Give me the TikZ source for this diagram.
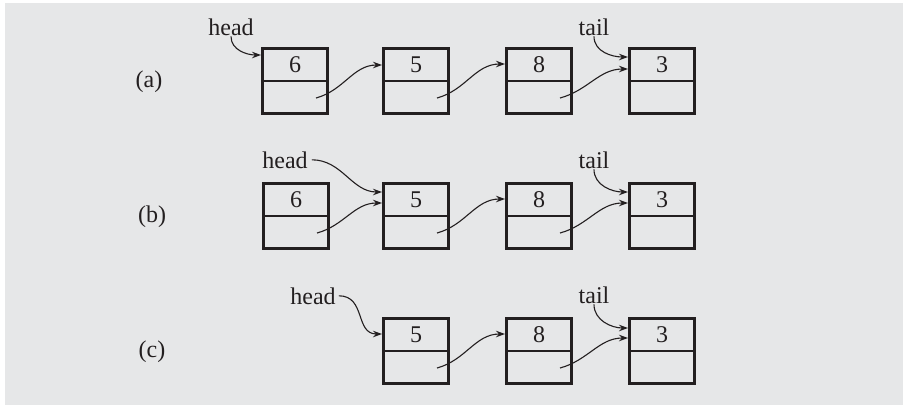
\documentclass[tikz,border=0pt]{standalone}
\usepackage{fontspec}
\setmainfont{Liberation Serif}
\usetikzlibrary{arrows.meta}
\definecolor{bg}{RGB}{230,231,232}
\definecolor{ink}{RGB}{35,31,32}
\begin{document}
\begin{tikzpicture}[x=1pt,y=1pt,
  cell/.style={draw=ink, line width=3pt, minimum width=65pt, minimum height=65pt, inner sep=0pt},
  val/.style={font=\fontsize{24}{28}\selectfont, text=ink, inner sep=0pt},
  lbl/.style={font=\fontsize{24}{28}\selectfont, text=ink, inner sep=1pt, anchor=base},
  div/.style={draw=ink, line width=1.1pt},
  ptr/.style={draw=ink, line width=1.1pt, -{Stealth[length=9pt,width=6.5pt]}},
]
\useasboundingbox (0,0) rectangle (903,-405);
\fill[white] (0,0) rectangle (903,-405);
\fill[bg] (5,-3) rectangle (903,-405);

% row labels
\node[val] (la) at (149,-82) {(a)};
\node[val] (lb) at (152,-217) {(b)};
\node[val] (lc) at (152,-352) {(c)};

% ---------- row (a)
\foreach \n/\x/\v in {1/295/6, 2/416/5, 3/539/8, 4/662/3}{
  \node[cell] (a\n) at (\x,-81) {};
  \draw[div] (a\n.west) -- (a\n.east);
  \node[val] (a\n v) at (\x,-65) {\v};
  \coordinate (a\n p) at ([shift={(21,-17)}]a\n.center);
}
\node[lbl] (headA) at (231,-35) {head};
\node[lbl] (tailA) at (594,-35) {tail};
\draw[ptr] (headA.south) to[out=-90,in=180] ([yshift=26pt]a1.west);
\draw[ptr] (a1p) to[out=15,in=180] ([yshift=16pt]a2.west);
\draw[ptr] (a2p) to[out=15,in=180] ([yshift=17pt]a3.west);
\draw[ptr] (a3p) to[out=15,in=180] ([yshift=12pt]a4.west);
\draw[ptr] (tailA.south) to[out=-90,in=180] ([yshift=24pt]a4.west);

% ---------- row (b)
\foreach \n/\x/\v in {1/296/6, 2/416/5, 3/539/8, 4/662/3}{
  \node[cell] (b\n) at (\x,-216) {};
  \draw[div] (b\n.west) -- (b\n.east);
  \node[val] (b\n v) at (\x,-200) {\v};
  \coordinate (b\n p) at ([shift={(21,-17)}]b\n.center);
}
\node[lbl] (headB) at (285,-168) {head};
\node[lbl] (tailB) at (594,-168) {tail};
\draw[ptr] ([xshift=3pt]headB.east) to[out=0,in=180] ([yshift=24pt]b2.west);
\draw[ptr] (b1p) to[out=15,in=180] ([yshift=13pt]b2.west);
\draw[ptr] (b2p) to[out=15,in=180] ([yshift=17pt]b3.west);
\draw[ptr] (b3p) to[out=15,in=180] ([yshift=13pt]b4.west);
\draw[ptr] (tailB.south) to[out=-90,in=180] ([yshift=24pt]b4.west);

% ---------- row (c)
\foreach \n/\x/\v in {2/416/5, 3/539/8, 4/662/3}{
  \node[cell] (c\n) at (\x,-351) {};
  \draw[div] (c\n.west) -- (c\n.east);
  \node[val] (c\n v) at (\x,-335) {\v};
  \coordinate (c\n p) at ([shift={(21,-17)}]c\n.center);
}
\node[lbl] (headC) at (313,-304) {head};
\node[lbl] (tailC) at (594,-303) {tail};
\draw[ptr] ([xshift=2pt]headC.east) to[out=0,in=180,looseness=1.2] ([yshift=17pt]c2.west);
\draw[ptr] (c2p) to[out=15,in=180] ([yshift=17pt]c3.west);
\draw[ptr] (c3p) to[out=15,in=180] ([yshift=13pt]c4.west);
\draw[ptr] (tailC.south) to[out=-90,in=180] ([yshift=23pt]c4.west);
\end{tikzpicture}
\end{document}
